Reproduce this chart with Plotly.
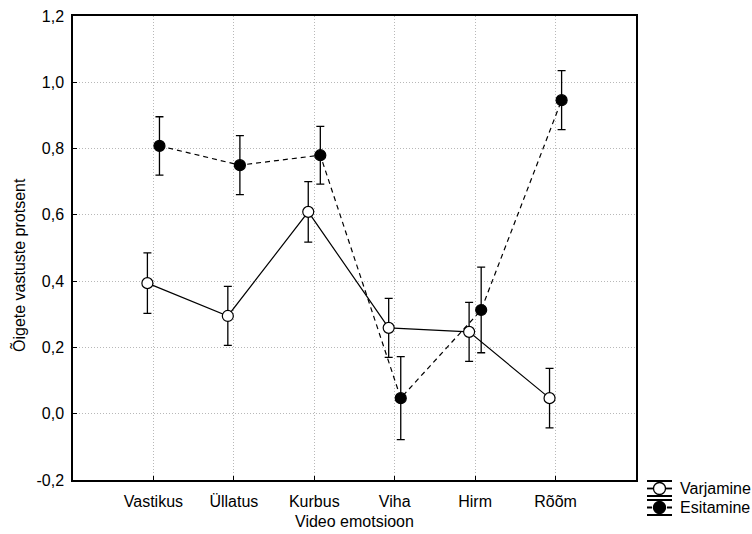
import plotly.graph_objects as go

categories = ["Vastikus", "Üllatus", "Kurbus", "Viha", "Hirm", "Rõõm"]
varjamine = [0.394, 0.295, 0.609, 0.259, 0.247, 0.047]
varjamine_err = [0.091, 0.089, 0.091, 0.089, 0.089, 0.090]
esitamine = [0.808, 0.750, 0.780, 0.047, 0.313, 0.946]
esitamine_err = [0.088, 0.089, 0.087, 0.125, 0.129, 0.089]
yticks = [-0.2, 0.0, 0.2, 0.4, 0.6, 0.8, 1.0, 1.2]
ytick_labels = ["-0,2", "0,0", "0,2", "0,4", "0,6", "0,8", "1,0", "1,2"]
series_names = ["Varjamine", "Esitamine"]

pos = list(range(1, len(categories) + 1))
dodge = 0.075
x_v = [p - dodge for p in pos]
x_e = [p + dodge for p in pos]

font = "Liberation Sans, Arial, sans-serif"
FS = 16
DASH = "5px,4px"

fig = go.Figure()
fig.add_trace(go.Scatter(
    x=x_v, y=varjamine, name=series_names[0], mode="lines+markers",
    line=dict(color="black", width=1.2, dash="solid"),
    marker=dict(symbol="circle", size=11, color="white", line=dict(color="black", width=1.2)),
    error_y=dict(type="data", array=varjamine_err, color="black", thickness=1.3, width=4),
    showlegend=False,
))
fig.add_trace(go.Scatter(
    x=x_e, y=esitamine, name=series_names[1], mode="lines+markers",
    line=dict(color="black", width=1.2, dash=DASH),
    marker=dict(symbol="circle", size=11, color="black", line=dict(color="black", width=1.2)),
    error_y=dict(type="data", array=esitamine_err, color="black", thickness=1.3, width=4),
    showlegend=False,
))

# Manual legend (symbol with error-bar caps, as in the reference)
L, R, T, B = 73, 116, 16, 54
W, H = 752, 534
pw, ph = W - L - R, H - T - B
def px_x(x):
    return (x - L) / pw
def px_y(y):
    return (H - B - y) / ph

shapes = []
annotations = []
SX = 659.5
HW = 12.5
legend_rows = [
    (series_names[0], 488.5, 7.5, False, "white"),
    (series_names[1], 507.5, 7.5, True, "black"),
]
for name, yc, cap, dashed, fill in legend_rows:
    caps_path = (f"M{px_x(SX - HW)},{px_y(yc - cap)} L{px_x(SX + HW)},{px_y(yc - cap)} "
                 f"M{px_x(SX - HW)},{px_y(yc + cap)} L{px_x(SX + HW)},{px_y(yc + cap)} "
                 f"M{px_x(SX)},{px_y(yc - cap)} L{px_x(SX)},{px_y(yc + cap)}")
    shapes.append(dict(type="path", xref="paper", yref="paper", path=caps_path,
                       line=dict(color="black", width=1.8)))
    if dashed:
        mid_path = (f"M{px_x(SX - HW)},{px_y(yc)} L{px_x(SX - HW + 5)},{px_y(yc)} "
                    f"M{px_x(SX + HW - 5)},{px_y(yc)} L{px_x(SX + HW)},{px_y(yc)}")
    else:
        mid_path = f"M{px_x(SX - HW)},{px_y(yc)} L{px_x(SX + HW)},{px_y(yc)}"
    shapes.append(dict(type="path", xref="paper", yref="paper", path=mid_path,
                       line=dict(color="black", width=1.8)))
    shapes.append(dict(type="circle", xref="paper", yref="paper",
                       x0=px_x(SX - 6), x1=px_x(SX + 6), y0=px_y(yc - 6), y1=px_y(yc + 6),
                       fillcolor=fill, line=dict(color="black", width=1.3)))
    annotations.append(dict(text=name, xref="paper", yref="paper", x=px_x(678), y=px_y(yc),
                            xanchor="left", yanchor="middle", showarrow=False,
                            font=dict(size=FS, family=font, color="black")))

annotations.append(dict(text="Õigete vastuste protsent", xref="paper", yref="paper",
                        x=px_x(18), y=px_y(265), textangle=-90, xanchor="center", yanchor="middle",
                        showarrow=False, font=dict(size=FS, family=font, color="black")))
annotations.append(dict(text="Video emotsioon", xref="paper", yref="paper",
                        x=0.5, y=px_y(521), xanchor="center", yanchor="middle",
                        showarrow=False, font=dict(size=FS, family=font, color="black")))

fig.update_layout(
    width=W, height=H,
    margin=dict(l=L, r=R, t=T, b=B, autoexpand=False),
    paper_bgcolor="white", plot_bgcolor="white",
    font=dict(family=font, size=FS, color="black"),
    showlegend=False,
    shapes=shapes, annotations=annotations,
)
fig.update_xaxes(
    range=[0, 7], tickvals=pos, ticktext=categories,
    showgrid=True, gridcolor="#b8b8b8", griddash="1px,2px", gridwidth=1,
    showline=True, linecolor="black", linewidth=1.5, mirror=True,
    ticks="inside", ticklen=4, tickcolor="black", zeroline=False,
    ticklabelstandoff=6,
)
fig.update_yaxes(
    range=[-0.2, 1.2], tickvals=yticks, ticktext=ytick_labels,
    showgrid=True, gridcolor="#b8b8b8", griddash="1px,2px", gridwidth=1,
    showline=True, linecolor="black", linewidth=1.5, mirror=True,
    ticks="inside", ticklen=4, tickcolor="black", zeroline=False,
    ticklabelstandoff=4,
)

fig.write_html("out.html", config={"displayModeBar": False},
               post_script="document.body.style.margin='0px';document.body.style.overflow='hidden';")
